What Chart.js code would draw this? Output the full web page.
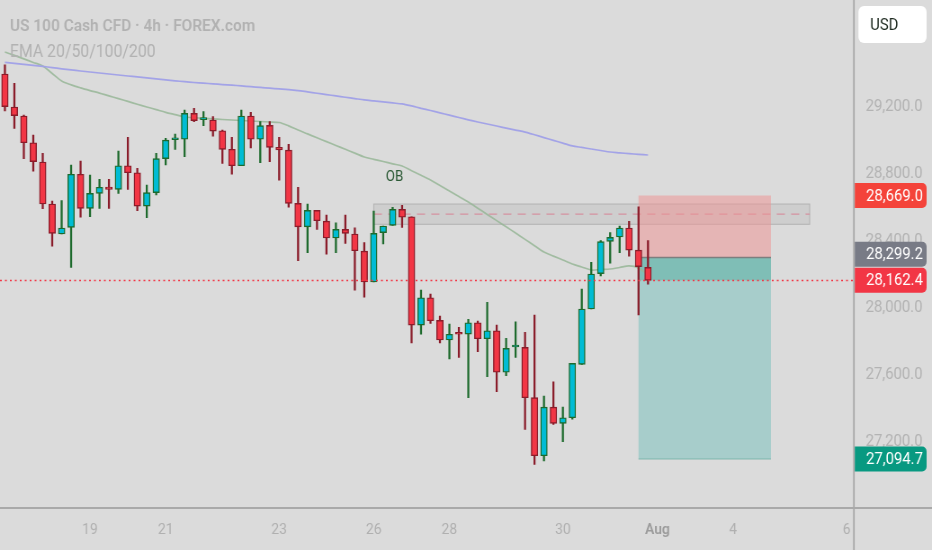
<!DOCTYPE html>
<html><head><meta charset="utf-8">
<script src="https://cdn.jsdelivr.net/npm/chart.js@4.4.1/dist/chart.umd.min.js"></script>
<style>
html,body{margin:0;padding:0;background:#dbdbdb;overflow:hidden;width:932px;height:550px;}
#wrap{width:1036px;height:550px;transform:scaleX(0.89961);transform-origin:0 0;}
canvas{display:block;}
</style></head><body>
<div id="wrap"><canvas id="c" width="1036" height="550"></canvas></div>
<script>
// ---- data (US 100 Cash CFD, 4h candles) ----
const opens=[29395,29198,29144,28984,28869,28618,28439,28479,28796,28592,
28682,28720,28706,28847,28805,28606,28686,28889,29002,29005,
29160,29122,29120,29056,28945,28847,29144,29005,29088,28957,
28940,28622,28482,28580,28516,28415,28467,28439,28337,28152,
28447,28491,28586,28542,27895,28058,27923,27806,27846,27841,
27909,27813,27861,27613,27764,27762,27461,27114,27405,27308,
27341,27660,27991,28202,28395,28421,28475,28343,28240];
const highs=[29450,29339,29150,29030,28921,28636,28638,28851,28875,28791,
28766,28766,28935,29017,28831,28732,28921,29011,29036,29180,
29190,29170,29140,29060,29017,29180,29166,29110,29110,29017,
28975,28718,28618,28580,28552,28506,28552,28476,28387,28576,
28487,28598,28610,28542,28104,28080,27949,27901,27881,27929,
27919,28031,27895,27816,27915,27852,27955,27471,27556,27405,
27666,28110,28270,28399,28447,28487,28515,28602,28399];
const lows=[29174,29070,28889,28815,28590,28367,28439,28240,28539,28542,
28592,28592,28682,28706,28578,28536,28672,28851,28945,28901,
29110,29086,29024,28861,28796,28847,28954,28865,28871,28761,
28600,28279,28327,28467,28318,28327,28383,28104,28061,28152,
28379,28491,28479,27789,27840,27905,27789,27692,27702,27461,
27736,27586,27497,27592,27702,27272,27063,27083,27302,27198,
27332,27660,27991,28188,28264,28327,28307,27955,28140];
const closes=[29200,29146,28984,28871,28618,28443,28475,28796,28592,28682,
28718,28706,28847,28805,28606,28686,28889,29000,29006,29160,
29116,29126,29054,28945,28847,29144,29005,29086,28957,28941,
28622,28482,28580,28518,28415,28467,28443,28339,28152,28443,
28487,28586,28539,27895,28058,27921,27806,27840,27840,27909,
27813,27861,27613,27756,27770,27461,27114,27405,27308,27341,
27666,27991,28200,28393,28419,28475,28343,28244,28162.4];
const emaGreen=[29526,29506,29485,29464,29443,29398,29353,29330,29312,29296,
29281,29264,29248,29231,29214,29198,29182,29166,29152,29138,
29134,29130,29127,29123,29120,29117,29114,29111,29108,29105,
29085,29060,29037,29014,28991,28968,28945,28922,28899,28885,
28872,28858,28845,28817,28790,28762,28729,28696,28663,28630,
28593,28556,28519,28482,28445,28407,28369,28331,28307,28284,
28260,28242,28224,28227,28230,28239,28248,28236,28194];
const emaPurple=[29464,29458,29452,29446,29440,29433,29426,29420,29413,29407,
29401,29395,29389,29383,29378,29372,29366,29360,29354,29349,
29344,29340,29336,29332,29328,29324,29319,29315,29310,29306,
29302,29296,29288,29280,29272,29264,29256,29248,29240,29234,
29228,29222,29216,29204,29190,29177,29163,29149,29135,29121,
29108,29096,29084,29072,29060,29048,29032,29015,28998,28982,
28965,28956,28947,28938,28929,28924,28919,28915,28911];
const xTickIndex=[9,17,29,39,47,59,69,77,89];
const xTickLabels=['19','21','23','26','28','30','Aug','4','6'];
const yTicks=[27200,27600,28000,28400,28800,29200];
const stopPrice=28669.0, entryPrice=28299.2, targetPrice=27094.7, lastPrice=28162.4;
const obTop=28618, obBottom=28497, obMid=28558, obStart=39, obEnd=85.1;
const obLabelIndex=41.2, obLabelPrice=28780;
const zoneStart=67, zoneEnd=81;

const UP_BODY='#00bcd4', DN_BODY='#f23645', UP_LINE='#1d6a2c', DN_LINE='#8a1c2a';
const idx=opens.map((_,i)=>i);
const isUp=i=>closes[i]>=opens[i];
const fmt=v=>v.toLocaleString('en-US',{minimumFractionDigits:1,maximumFractionDigits:1});

const drawings={
  id:'drawings',
  beforeDraw(chart){
    const c=chart.ctx; c.save(); c.fillStyle='#dbdbdb'; c.fillRect(0,0,chart.width,chart.height); c.restore();
  },
  beforeDatasetsDraw(chart){
    const c=chart.ctx, x=chart.scales.x, y=chart.scales.y;
    c.save();
    // OB box
    const ox1=x.getPixelForValue(obStart), ox2=x.getPixelForValue(obEnd);
    const oy1=y.getPixelForValue(obTop), oy2=y.getPixelForValue(obBottom);
    c.fillStyle='rgba(190,190,190,0.45)'; c.fillRect(ox1,oy1,ox2-ox1,oy2-oy1);
    c.strokeStyle='rgba(170,170,170,0.8)'; c.lineWidth=1; c.strokeRect(ox1,oy1,ox2-ox1,oy2-oy1);
    c.setLineDash([9,7]); c.strokeStyle='rgba(214,140,155,0.9)'; c.lineWidth=1.3;
    const om=y.getPixelForValue(obMid); c.beginPath(); c.moveTo(ox1,om); c.lineTo(ox2,om); c.stroke(); c.setLineDash([]);
    // position zones
    const zx1=x.getPixelForValue(zoneStart), zx2=x.getPixelForValue(zoneEnd);
    const ys=y.getPixelForValue(stopPrice), ye=y.getPixelForValue(entryPrice), yt=y.getPixelForValue(targetPrice), yl=y.getPixelForValue(lastPrice);
    c.fillStyle='rgba(236,150,150,0.55)'; c.fillRect(zx1,ys,zx2-zx1,ye-ys);
    c.fillStyle='rgb(167,205,203)'; c.fillRect(zx1,ye,zx2-zx1,yt-ye);
    c.fillStyle='rgb(127,190,182)'; c.fillRect(zx1,ye,zx2-zx1,yl-ye);
    c.strokeStyle='rgba(120,120,120,0.9)'; c.lineWidth=1.5; c.beginPath(); c.moveTo(zx1,ye); c.lineTo(zx2,ye); c.stroke();
    c.strokeStyle='rgba(120,180,170,0.9)'; c.lineWidth=1; c.beginPath(); c.moveTo(zx1,yt); c.lineTo(zx2,yt); c.stroke();
    c.restore();
  },
  afterDatasetsDraw(chart){
    const c=chart.ctx, a=chart.chartArea, y=chart.scales.y;
    const yl=Math.round(y.getPixelForValue(lastPrice))+0.5;
    c.save(); c.strokeStyle='#f23645'; c.lineWidth=1.6; c.setLineDash([2,3.5]);
    c.beginPath(); c.moveTo(a.left,yl); c.lineTo(a.right,yl); c.stroke(); c.restore();
  },
  afterDraw(chart){
    const c=chart.ctx, a=chart.chartArea, x=chart.scales.x, y=chart.scales.y, W=chart.width, H=chart.height;
    c.save();
    // axis frame lines
    c.strokeStyle='#a9a9a9'; c.lineWidth=1.8;
    c.beginPath(); c.moveTo(a.right+1,0); c.lineTo(a.right+1,H); c.stroke();
    c.beginPath(); c.moveTo(0,a.bottom+1); c.lineTo(W,a.bottom+1); c.stroke();
    // price badges
    const bx=a.right+2, bw=W-6-bx, bh=25;
    const badges=[
      {v:stopPrice,col:'#f4433a'},
      {v:lastPrice,col:'#f23645',fixed:true},
      {v:entryPrice,col:'#787b86'},
      {v:targetPrice,col:'#089981'}
    ].map(b=>({...b,cy:y.getPixelForValue(b.v)}));
    const last=badges[1];
    badges.forEach(b=>{ if(!b.fixed && Math.abs(b.cy-last.cy)<bh){ b.cy = b.cy<last.cy ? last.cy-bh-1 : last.cy+bh+1; } });
    badges.forEach(b=>{
      c.fillStyle=b.col; c.beginPath(); c.roundRect(bx,b.cy-bh/2,bw,bh,[0,5,5,0]); c.fill();
      c.fillStyle='#ffffff'; c.font='16.5px Roboto'; c.textBaseline='middle'; c.textAlign='left';
      c.fillText(fmt(b.v), a.right+14.5, b.cy+1);
    });
    // currency box
    c.fillStyle='#ffffff'; c.beginPath(); c.roundRect(a.right+6,6,W-6-(a.right+6),37,6); c.fill();
    c.fillStyle='#1f2b21'; c.font='16.5px Roboto'; c.textBaseline='middle'; c.textAlign='left';
    c.fillText('USD', a.right+19, 25.5);
    // legend texts
    c.fillStyle='#b2b2b2'; c.textBaseline='alphabetic';
    c.font='600 17.2px Roboto'; c.fillText('US 100 Cash CFD · 4h · FOREX.com', 11, 31);
    c.font='17.6px Roboto'; c.fillText('EMA 20/50/100/200', 11, 57);
    // OB label
    c.fillStyle='#2c5a36'; c.font='15px Roboto'; c.textAlign='center'; c.textBaseline='middle';
    c.fillText('OB', x.getPixelForValue(obLabelIndex), y.getPixelForValue(obLabelPrice));
    c.restore();
  }
};

new Chart(document.getElementById('c'),{
  type:'bar',
  data:{datasets:[
    {type:'line',label:'EMA green',data:idx.map(i=>({x:i,y:emaGreen[i]})),borderColor:'rgba(150,182,150,0.85)',borderWidth:1.7,pointRadius:0,tension:0.3,order:5},
    {type:'line',label:'EMA purple',data:idx.map(i=>({x:i,y:emaPurple[i]})),borderColor:'rgba(160,160,232,0.95)',borderWidth:1.7,pointRadius:0,tension:0.3,order:4},
    {label:'wicks',data:idx.map(i=>({x:i,y:[lows[i],highs[i]]})),backgroundColor:idx.map(i=>isUp(i)?UP_LINE:DN_LINE),barThickness:1.6,grouped:false,order:3},
    {label:'bodies',data:idx.map(i=>({x:i,y:[Math.min(opens[i],closes[i]),Math.max(opens[i],closes[i])]})),
     backgroundColor:idx.map(i=>isUp(i)?UP_BODY:DN_BODY),borderColor:idx.map(i=>isUp(i)?UP_LINE:DN_LINE),
     borderWidth:1.4,borderSkipped:false,barThickness:7.4,minBarLength:2,grouped:false,order:2}
  ]},
  options:{
    responsive:false,animation:false,
    layout:{padding:0},
    plugins:{legend:{display:false},tooltip:{enabled:false}},
    scales:{
      x:{type:'linear',min:-0.518,max:89.68,offset:false,
        grid:{display:false,drawTicks:false},border:{display:false},
        afterBuildTicks:s=>{s.ticks=xTickIndex.map(v=>({value:v}));},
        afterFit:s=>{s.height=43;s.paddingLeft=0;s.paddingRight=0;s.paddingTop=0;s.paddingBottom=0;},
        ticks:{autoSkip:false,maxRotation:0,padding:14,
          color:ctx=>ctx.index===6?'#9c9c9c':'#b0b0b0',
          font:ctx=>({family:'Roboto',size:15.5,weight:ctx.index===6?'600':'400'}),
          callback:(v,i)=>xTickLabels[i]}
      },
      y:{type:'linear',position:'right',min:26808,max:29837,
        grid:{display:false,drawTicks:false},border:{display:false},
        afterBuildTicks:s=>{s.ticks=yTicks.map(v=>({value:v}));},
        afterFit:s=>{s.width=87.8;s.paddingTop=0;s.paddingBottom=0;s.paddingLeft=0;s.paddingRight=0;},
        ticks:{padding:14,color:'#b3b3b3',font:{family:'Roboto',size:16.5},callback:v=>fmt(v)}
      }
    }
  },
  plugins:[drawings]
});
</script>
</body></html>
